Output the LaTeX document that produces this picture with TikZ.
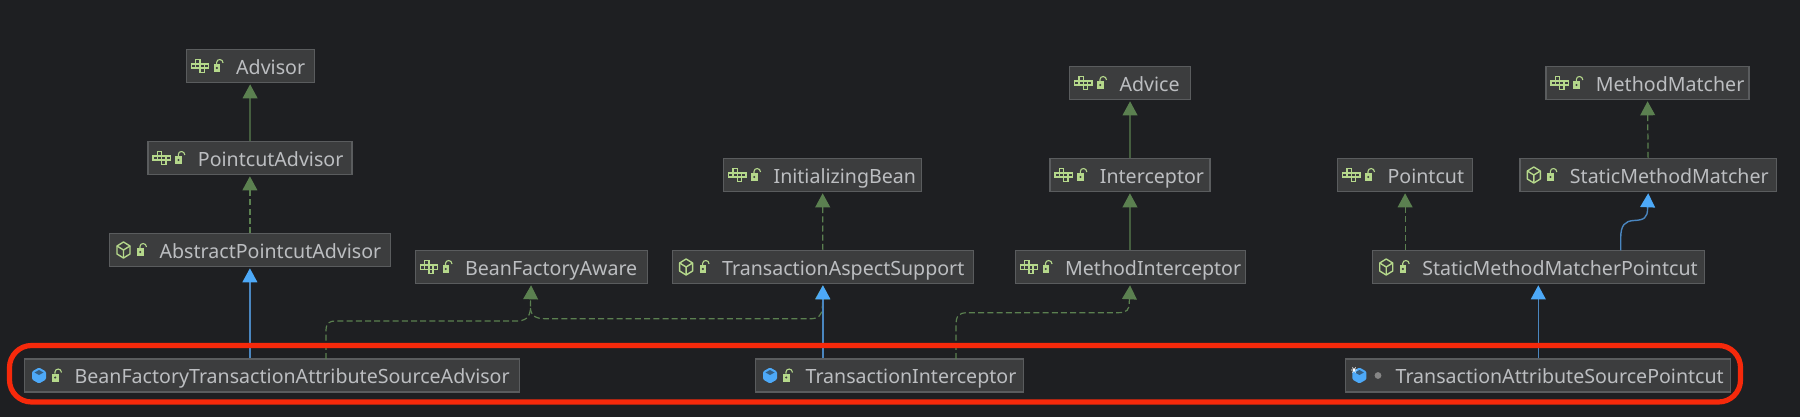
\documentclass[tikz,border=0pt]{standalone}
\usepackage{fontspec}
\setmainfont{Noto Sans}
\usetikzlibrary{arrows.meta}
\definecolor{pagebg}{HTML}{1E1F22}
\definecolor{boxfill}{HTML}{3C3D3E}
\definecolor{boxline}{HTML}{5A5C5E}
\definecolor{boxtext}{HTML}{BCBEC1}
\definecolor{icongreen}{HTML}{B5D88B}
\definecolor{implgreen}{HTML}{5B8050}
\definecolor{extblue}{HTML}{4DA9F8}
\definecolor{extline}{HTML}{4A86C0}
\definecolor{markred}{HTML}{F6290B}
\tikzset{
  umlbox/.style={draw=boxline, fill=boxfill, line width=.6pt, anchor=west, inner xsep=0pt, inner ysep=0pt,
    minimum height=16.5pt, text height=8.2pt, text depth=0pt, align=left, text=boxtext, font=\fontsize{9.8}{10}\selectfont},
  implarrow/.style={draw=implgreen, line width=.6pt, dashed, dash pattern=on 3pt off 1.6pt, -{Triangle[width=7.4pt,length=7pt,color=implgreen,fill=implgreen]}, shorten >=.6pt},
  extarrow/.style={draw=implgreen, line width=.6pt, -{Triangle[width=7.4pt,length=7pt,color=implgreen,fill=implgreen]}, shorten >=.6pt},
  bluearrow/.style={draw=extline, line width=.7pt, -{Triangle[width=7.4pt,length=7pt,color=extblue,fill=extblue]}, shorten >=.6pt},
  lockicon/.pic={
    \fill[icongreen] (28,-2) rectangle (34.5,6);
    \fill[boxfill] (31.2,2) circle (.6pt);
    \draw[icongreen, line width=.55pt] (31,-2) -- (31,-3.5) .. controls (31,-7.5) and (37.5,-7.5) .. (37.5,-3);
  },
  ifaceicon/.pic={
    \foreach \cx/\cy in {0/0,1/0,2/0,3/0,1/-1,2/1}
      \draw[icongreen, line width=.7pt] (5.7+4.3*\cx,-2.1+4.3*\cy) rectangle ++(4.3,4.3);
    \pic {lockicon};
  },
  classicon/.pic={
    \draw[icongreen, line width=.7pt, line join=round] (14.5,-8) -- (21,-4) -- (21,4) -- (14.5,8) -- (8,4) -- (8,-4) -- cycle;
    \draw[icongreen, line width=.7pt] (8,-4) -- (14.5,0) -- (21,-4) (14.5,0) -- (14.5,8);
    \pic {lockicon};
  },
  bluecube/.pic={
    \fill[extblue, rounded corners=.6pt] (15,-8) -- (22,-4) -- (22,4) -- (15,8) -- (8,4) -- (8,-4) -- cycle;
    \fill[black!35!extblue!70!boxfill] (15,-5.5) -- (19.5,-3) -- (15,-.5) -- (10.5,-3) -- cycle;
  },
}
\begin{document}
\begin{tikzpicture}[x=.5pt, y=-.5pt]
\useasboundingbox (0,0) rectangle (1800,417);
\fill[pagebg] (0,0) rectangle (1800,417);
% interfaces
\foreach \nm/\x/\y/\w/\txt in {Advisor/185.6/66/128/Advisor, PointcutAdvisor/147.3/158/204/PointcutAdvisor,
  BeanFactoryAware/414.5/267/232/BeanFactoryAware, InitializingBean/723/175/198/InitializingBean,
  Advice/1069/83/121/Advice, Interceptor/1049.3/175/160/Interceptor, MethodInterceptor/1014.5/267/230/MethodInterceptor,
  Pointcut/1337/175/135/Pointcut, MethodMatcher/1545.3/83/203/MethodMatcher}{
  \node[umlbox, text width=\w*.5pt] (\nm) at (\x,\y) {\hspace*{25pt}\mbox{\txt}};
  \pic at (\nm.west) {ifaceicon};
}
% abstract classes
\foreach \nm/\x/\y/\w/\txt in {AbstractPointcutAdvisor/109/250/280.6/AbstractPointcutAdvisor,
  TransactionAspectSupport/671.6/267/301.4/TransactionAspectSupport,
  StaticMethodMatcherPointcut/1371.7/267/332/StaticMethodMatcherPointcut,
  StaticMethodMatcher/1519.3/175/256.7/StaticMethodMatcher}{
  \node[umlbox, text width=\w*.5pt] (\nm) at (\x,\y) {\hspace*{25pt}\mbox{\txt}};
  \pic at (\nm.west) {classicon};
}
% classes in the red frame
\foreach \nm/\x/\w/\txt in {BeanFactoryTxAdvisor/24/495/BeanFactoryTransactionAttributeSourceAdvisor,
  TransactionInterceptor/755/268/TransactionInterceptor,
  TxAttributePointcut/1345/385/TransactionAttributeSourcePointcut}{
  \node[umlbox, text width=\w*.5pt] (\nm) at (\x,375.5) {\hspace*{25pt}\mbox{\txt}};
}
\pic at (BeanFactoryTxAdvisor.west) {bluecube};
\pic at (BeanFactoryTxAdvisor.west) {lockicon};
\pic at (TransactionInterceptor.west) {bluecube};
\pic at (TransactionInterceptor.west) {lockicon};
\pic[xshift=-.3pt] at (TxAttributePointcut.west) {bluecube};
\draw[white, line width=.35pt] ([shift={(9,-5.5)}]TxAttributePointcut.west) +(-3,0) -- +(3,0) +(-1.5,-2.6) -- +(1.5,2.6) +(-1.5,2.6) -- +(1.5,-2.6);
\fill[gray!90!boxtext] ([shift={(33,0)}]TxAttributePointcut.west) circle (1.7pt);
% straight connectors
\draw[extarrow] (PointcutAdvisor) -- (Advisor);
\draw[implarrow] (AbstractPointcutAdvisor) -- (PointcutAdvisor);
\draw[bluearrow] (AbstractPointcutAdvisor.south |- BeanFactoryTxAdvisor.north) -- (AbstractPointcutAdvisor.south);
\draw[implarrow] (TransactionAspectSupport) -- (InitializingBean);
\draw[extarrow] (Interceptor) -- (Advice);
\draw[extarrow] (MethodInterceptor) -- (Interceptor);
\draw[implarrow] (Pointcut.south |- StaticMethodMatcherPointcut.north) -- (Pointcut.south);
\draw[implarrow] (StaticMethodMatcher) -- (MethodMatcher);
\draw[bluearrow] (StaticMethodMatcherPointcut.south |- TxAttributePointcut.north) -- (StaticMethodMatcherPointcut.south);
% routed connectors
\coordinate (advisorDrop) at (326,359);
\coordinate (interceptorDrop) at (956,359);
\coordinate (staticRise) at (1620.7,250.3);
\draw[implarrow] (advisorDrop) -- (326,332) .. controls (326,323) and (328,321) .. (337,321) -- (516,321)
  .. controls (525,321) and (530,318) .. (530.4,308) -- (BeanFactoryAware.south);
\draw[implarrow] (530.4,308) .. controls (531,316) and (536,318.7) .. (545,318.7) -- (812,318.7)
  .. controls (818,318.7) and (822,315) .. (822.3,308) -- (TransactionAspectSupport.south);
\draw[bluearrow] (TransactionInterceptor.north -| TransactionAspectSupport.south) -- (TransactionAspectSupport.south);
\draw[implarrow] (interceptorDrop) -- (956,326) .. controls (956,316) and (958,312.7) .. (968,312.7) -- (1118,312.7)
  .. controls (1127,312.7) and (1129.3,310) .. (1129.3,302) -- (MethodInterceptor.south);
\draw[bluearrow] (staticRise) -- (1620.7,238) .. controls (1620.7,225) and (1625,221) .. (1634,220.5)
  .. controls (1644,220) and (1647.6,218) .. (1647.6,208) -- (StaticMethodMatcher.south);
% red frame
\draw[markred, line width=2.6pt, rounded corners=11pt] (9.5,345.5) rectangle (1740.5,402);
\end{tikzpicture}
\end{document}
